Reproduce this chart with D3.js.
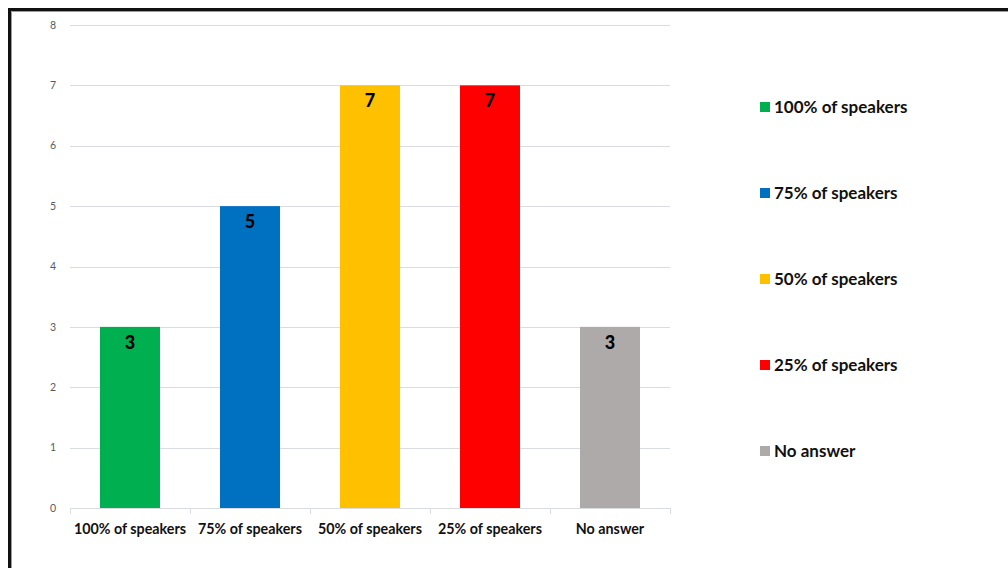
<!DOCTYPE html>
<html>
<head>
<meta charset="utf-8">
<script src="https://cdn.jsdelivr.net/npm/d3@7"></script>
<style>
  html, body { margin: 0; padding: 0; background: #fff; }
  svg { display: block; }
</style>
</head>
<body>
<svg id="chart" width="1008" height="568"></svg>
<script>
// Responses per category
const categories = ["100% of speakers", "75% of speakers", "50% of speakers", "25% of speakers", "No answer"];
const values = [3, 5, 7, 7, 3];
const colors = ["#00b050", "#0070c0", "#ffc000", "#ff0000", "#aeaaaa"];
const yTicks = [0, 1, 2, 3, 4, 5, 6, 7, 8];

const svg = d3.select("#chart");
const font = "Lato, 'Open Sans', 'Liberation Sans', sans-serif";

// Frame: heavy black rule on top and left with a thin blue inner line
svg.append("rect").attr("x", 8).attr("y", 8).attr("width", 1010).attr("height", 580)
  .attr("fill", "none").attr("stroke", "#111").attr("stroke-width", 3)
  .attr("transform", "translate(1.5,1.5)");
svg.append("line").attr("x1", 11.5).attr("x2", 1008).attr("y1", 11.5).attr("y2", 11.5)
  .attr("stroke", "#7f9fd8").attr("stroke-width", 1);
svg.append("line").attr("x1", 11.5).attr("x2", 11.5).attr("y1", 11.5).attr("y2", 568)
  .attr("stroke", "#7f9fd8").attr("stroke-width", 1);

const x = d3.scaleBand().domain(categories).range([70, 670]).paddingInner(0.5).paddingOuter(0.25);
const y = d3.scaleLinear().domain([0, 8]).range([508, 25]);

// Gridlines
svg.append("g").selectAll("line").data(yTicks.filter(d => d > 0)).join("line")
  .attr("x1", 70).attr("x2", 670)
  .attr("y1", d => Math.round(y(d)) + 0.5).attr("y2", d => Math.round(y(d)) + 0.5)
  .attr("stroke", "#d9dde3").attr("stroke-width", 1);

// Y axis labels
svg.append("g").selectAll("text").data(yTicks).join("text")
  .attr("x", 56).attr("y", d => y(d)).attr("dy", "0.35em")
  .attr("text-anchor", "end")
  .attr("font-family", font).attr("font-size", 10.5).attr("fill", "#555b66")
  .text(d => d);

// Bars
svg.append("g").selectAll("rect").data(values).join("rect")
  .attr("x", (d, i) => x(categories[i]))
  .attr("width", x.bandwidth())
  .attr("y", d => y(d))
  .attr("height", d => y(0) - y(d))
  .attr("fill", (d, i) => colors[i]);

// Value labels inside the top of each bar
svg.append("g").selectAll("text").data(values).join("text")
  .attr("x", (d, i) => x(categories[i]) + x.bandwidth() / 2)
  .attr("y", d => y(d) + 22)
  .attr("text-anchor", "middle")
  .attr("font-family", font).attr("font-weight", 900).attr("font-size", 18).attr("fill", "#000")
  .text(d => d);

// X axis baseline and band boundary ticks
const xAxis = svg.append("g");
xAxis.append("line").attr("x1", 70).attr("x2", 670).attr("y1", 508.5).attr("y2", 508.5)
  .attr("stroke", "#d9dde3");
const edges = d3.range(categories.length + 1).map(i => 70 + i * x.step());
xAxis.selectAll("line.tick").data(edges).join("line").attr("class", "tick")
  .attr("x1", d => Math.round(d) + 0.5).attr("x2", d => Math.round(d) + 0.5)
  .attr("y1", 508).attr("y2", 514).attr("stroke", "#d9dde3");
xAxis.selectAll("text").data(categories).join("text")
  .attr("x", d => x(d) + x.bandwidth() / 2).attr("y", 534)
  .attr("text-anchor", "middle")
  .attr("font-family", font).attr("font-weight", "bold").attr("font-size", 14.3).attr("fill", "#111")
  .text(d => d);

// Legend
const legend = svg.append("g").selectAll("g").data(categories).join("g")
  .attr("transform", (d, i) => `translate(760, ${107 + i * 86})`);
legend.append("rect").attr("x", 0).attr("y", -5).attr("width", 10).attr("height", 10)
  .attr("fill", (d, i) => colors[i]);
legend.append("text").attr("x", 14).attr("y", 0).attr("dy", "0.35em")
  .attr("font-family", font).attr("font-weight", "bold").attr("font-size", 17).attr("fill", "#111")
  .text(d => d);
</script>
</body>
</html>
